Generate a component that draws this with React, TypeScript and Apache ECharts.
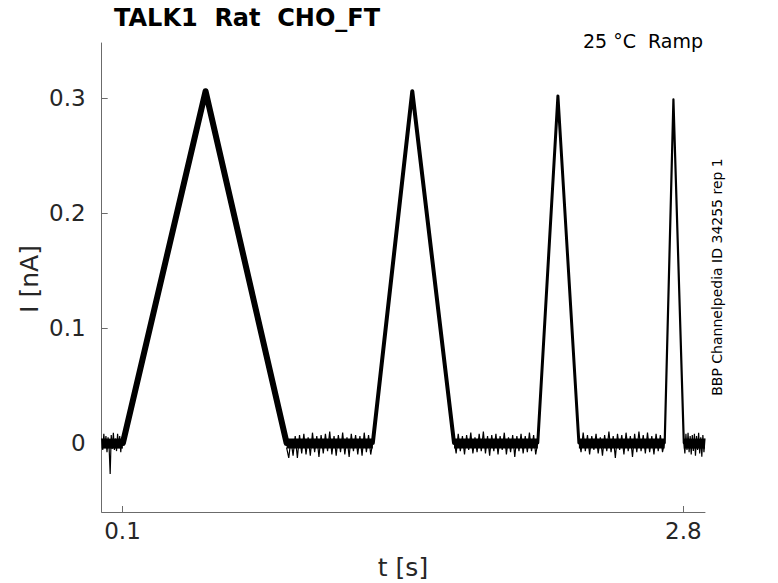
import React, { useEffect, useRef } from "react";
import * as echarts from "echarts";

// Axis ranges and ticks
const X_MIN = 0;
const X_MAX = 2.904;
const Y_MIN = -0.06;
const Y_MAX = 0.348;
const xTickValues = [0.1, 2.8];
const yTickValues = [0, 0.1, 0.2, 0.3];

// Ramp shape (t in s, I in nA)
const rampStarts = [0.102, 1.305, 2.099, 2.71];
const rampPeaks = [0.5, 1.495, 2.196, 2.752];
const rampEnds = [0.89, 1.696, 2.297, 2.802];
const rampPeakValues = [0.306, 0.306, 0.302, 0.299];
const rampWidths = [6, 4, 3, 2.2];

// Baseline segments: start time, sample step, measured noise (nA)
const baselineStarts = [0.0, 0.89, 1.696, 2.297, 2.802];
const baselineSteps = [0.0051, 0.01038, 0.01008, 0.01032, 0.0051];
const baselineLevel = -0.0005;
const noiseA = [0.004, -0.006, 0.008, -0.004, 0.006, -0.008, 0.005, -0.004, -0.027, 0.007, -0.005, 0.009, -0.006, 0.004, -0.007, 0.008, -0.004, 0.006, -0.008, 0.005, -0.002];
const noiseB = [-0.004, -0.013, 0.003, -0.011, 0.006, -0.013, 0.007, -0.009, 0.008, -0.01, 0.005, -0.011, 0.009, -0.008, 0.006, -0.012, 0.007, -0.009, 0.008, -0.007, 0.01, -0.01, 0.006, -0.011, 0.007, -0.008, 0.009, -0.01, 0.005, -0.012, 0.008, -0.007, 0.007, -0.01, 0.006, -0.011, 0.009, -0.008, 0.007, -0.01, 0.001];
const noiseC = [0.003, -0.009, 0.008, -0.007, 0.006, -0.01, 0.007, -0.006, 0.009, -0.009, 0.005, -0.008, 0.008, -0.007, 0.01, -0.009, 0.006, -0.011, 0.007, -0.007, 0.008, -0.01, 0.006, -0.006, 0.009, -0.01, 0.005, -0.008, 0.007, -0.012, 0.006, -0.007, 0.008, -0.009, 0.006, -0.008, 0.009, -0.007, 0.007, -0.01, 0.001];
const noiseD = [0.004, -0.008, 0.009, -0.007, 0.007, -0.01, 0.006, -0.006, 0.008, -0.009, 0.005, -0.011, 0.007, -0.007, 0.01, -0.008, 0.006, -0.013, 0.008, -0.006, 0.007, -0.01, 0.009, -0.007, 0.006, -0.012, 0.008, -0.008, 0.01, -0.007, 0.007, -0.009, 0.009, -0.008, 0.006, -0.01, 0.008, -0.007, 0.007, -0.008, 0.001];
const noiseE = [0.001, -0.009, 0.008, -0.006, 0.009, -0.008, 0.006, -0.01, 0.007, -0.007, 0.008, -0.011, 0.006, -0.006, 0.009, -0.009, 0.005, -0.012, 0.007, -0.008, 0.004];
const baselineNoise = [noiseA, noiseB, noiseC, noiseD, noiseE];

const FONT = "DejaVu Sans";
const TEXT = "#262626";
const AXIS = "#6b6b6b";

export default function App() {
  const ref = useRef<HTMLDivElement>(null);

  useEffect(() => {
    if (!ref.current) return;
    const chart = echarts.init(ref.current, undefined, { renderer: "svg" });

    const coreSeries = baselineNoise.map((vals, s) => ({
      type: "line",
      data: [
        [baselineStarts[s], baselineLevel],
        [baselineStarts[s] + (vals.length - 1) * baselineSteps[s], baselineLevel],
      ],
      symbol: "none",
      clip: true,
      lineStyle: { color: "#000", width: 10, cap: "butt" },
      silent: true,
    }));

    const baselineSeries = baselineNoise.map((vals, s) => ({
      type: "line",
      data: vals.map((v, i) => [baselineStarts[s] + i * baselineSteps[s], v]),
      symbol: "none",
      clip: true,
      lineStyle: { color: "#000", width: 1.2 },
      silent: true,
    }));

    const rampSeries = rampStarts.map((t0, r) => ({
      type: "line",
      data: [
        [t0, 0],
        [rampPeaks[r], rampPeakValues[r]],
        [rampEnds[r], 0],
      ],
      symbol: "none",
      clip: true,
      lineStyle: { color: "#000", width: rampWidths[r], join: "round", cap: "round" },
      silent: true,
    }));

    chart.setOption({
      animation: false,
      grid: { left: 101.7, right: 73, top: 43, bottom: 71, containLabel: false },
      xAxis: {
        type: "value",
        min: X_MIN,
        max: X_MAX,
        axisLine: { show: true, onZero: false, lineStyle: { color: AXIS, width: 1 } },
        axisTick: { show: true, inside: true, length: 6, lineStyle: { color: AXIS }, customValues: xTickValues },
        axisLabel: {
          show: true,
          customValues: xTickValues,
          formatter: (v: number) => String(v),
          color: TEXT,
          fontFamily: FONT,
          fontSize: 23,
          margin: 7,
        },
        splitLine: { show: false },
      },
      yAxis: {
        type: "value",
        min: Y_MIN,
        max: Y_MAX,
        axisLine: { show: true, onZero: false, lineStyle: { color: AXIS, width: 1 } },
        axisTick: { show: true, inside: true, length: 6, lineStyle: { color: AXIS }, customValues: yTickValues },
        axisLabel: {
          show: true,
          customValues: yTickValues,
          formatter: (v: number) => String(Math.round(v * 10) / 10),
          color: TEXT,
          fontFamily: FONT,
          fontSize: 23,
          margin: 16,
        },
        splitLine: { show: false },
      },
      graphic: [
        {
          type: "text",
          x: 114,
          y: 18,
          style: { text: "TALK1  Rat  CHO_FT", font: `bold 24px "${FONT}"`, fill: "#000", textVerticalAlign: "middle", textAlign: "left" },
        },
        {
          type: "text",
          x: 703,
          y: 41,
          style: { text: "25 °C  Ramp", font: `19px "${FONT}"`, fill: "#000", textVerticalAlign: "middle", textAlign: "right" },
        },
        {
          type: "text",
          x: 403,
          y: 567,
          style: { text: "t [s]", font: `25px "${FONT}"`, fill: TEXT, textVerticalAlign: "middle", textAlign: "center" },
        },
        {
          type: "text",
          x: 29,
          y: 279,
          rotation: Math.PI / 2,
          style: { text: "I [nA]", font: `25px "${FONT}"`, fill: TEXT, textVerticalAlign: "middle", textAlign: "center" },
        },
        {
          type: "text",
          x: 717,
          y: 277,
          rotation: Math.PI / 2,
          style: { text: "BBP Channelpedia ID 34255 rep 1", font: `14px "${FONT}"`, fill: "#000", textVerticalAlign: "middle", textAlign: "center" },
        },
      ],
      series: [...coreSeries, ...baselineSeries, ...rampSeries],
    });

    return () => chart.dispose();
  }, []);

  return <div ref={ref} style={{ width: 778, height: 583, position: "absolute", left: 0, top: 0, background: "#fff" }} />;
}
